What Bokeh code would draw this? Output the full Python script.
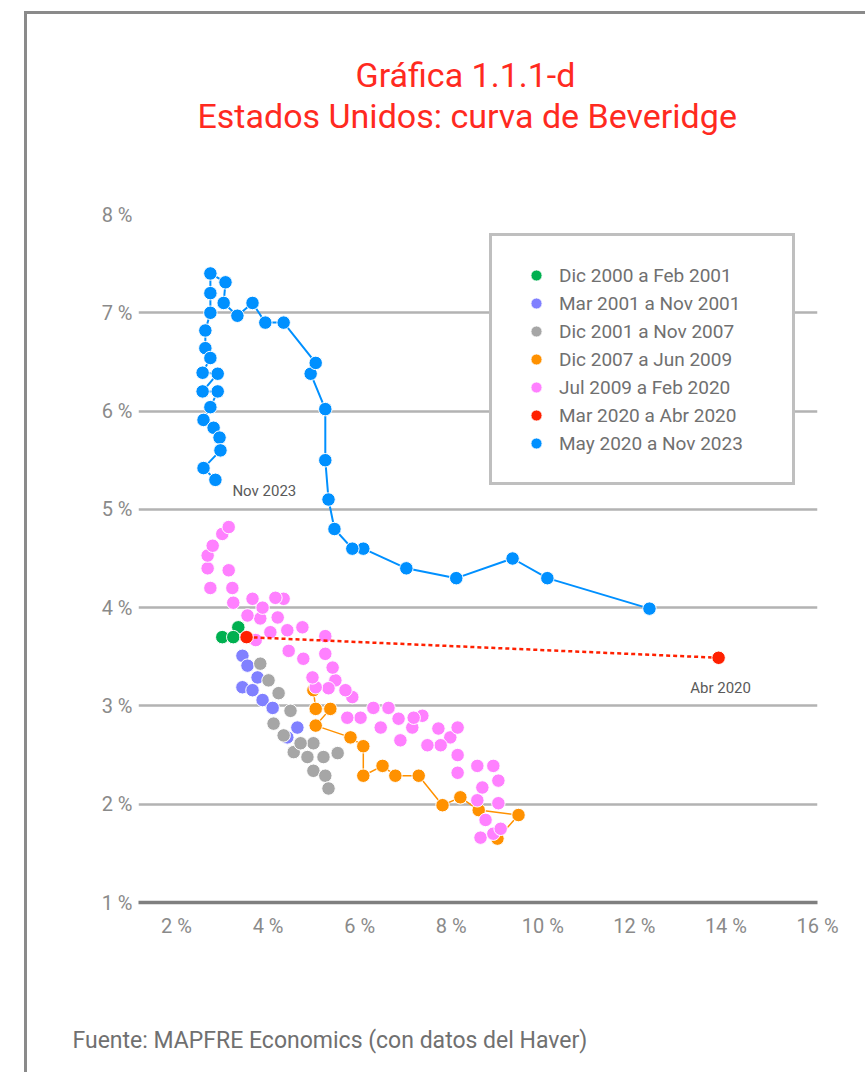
from bokeh.plotting import figure
from bokeh.models import Range1d, FixedTicker, Label, Legend, LegendItem, Title
from bokeh.embed import file_html
from bokeh.resources import INLINE

# ---------------- data ----------------
title_line1 = "Gráfica 1.1.1-d"
title_line2 = "Estados Unidos: curva de Beveridge"
source_note = "Fuente: MAPFRE Economics (con datos del Haver)"

x_ticks = [2, 4, 6, 8, 10, 12, 14, 16]
x_tick_labels = ["2 %", "4 %", "6 %", "8 %", "10 %", "12 %", "14 %", "16 %"]
y_ticks = [1, 2, 3, 4, 5, 6, 7, 8]
y_tick_labels = ["1 %", "2 %", "3 %", "4 %", "5 %", "6 %", "7 %", "8 %"]

series_labels = [
    "Dic 2000 a Feb 2001",
    "Mar 2001 a Nov 2001",
    "Dic 2001 a Nov 2007",
    "Dic 2007 a Jun 2009",
    "Jul 2009 a Feb 2020",
    "Mar 2020 a Abr 2020",
    "May 2020 a Nov 2023",
]
series_colors = ["#00b050", "#8080ff", "#a6a6a6", "#ff9100", "#ff80ff", "#ff2000", "#0090ff"]

# x = unemployment rate (%), y = vacancy rate (%)
green_x = [3.00, 3.35, 3.24]
green_y = [3.70, 3.80, 3.70]

purple_x = [3.44, 3.55, 3.77, 3.44, 3.66, 3.88, 4.10, 4.64, 4.42]
purple_y = [3.51, 3.41, 3.29, 3.19, 3.16, 3.06, 2.98, 2.78, 2.68]

grey_x = [4.56, 4.86, 4.99, 5.25, 5.32, 5.21, 5.52, 4.99, 4.71, 4.34, 4.12, 4.49, 4.23, 4.01, 3.83]
grey_y = [2.53, 2.48, 2.34, 2.29, 2.16, 2.48, 2.52, 2.62, 2.62, 2.70, 2.82, 2.95, 3.13, 3.26, 3.43]

orange_x = [4.99, 5.04, 5.36, 5.04, 5.80, 6.08, 6.08, 6.50, 6.78, 7.29, 7.81, 8.20, 8.60, 9.47, 9.01]
orange_y = [3.16, 2.97, 2.97, 2.80, 2.68, 2.59, 2.29, 2.39, 2.29, 2.29, 1.99, 2.07, 1.94, 1.89, 1.65]

pink_x = [8.64, 8.92, 9.08, 8.75, 8.57, 9.03, 8.68, 9.03, 8.92, 8.57, 8.14, 8.14, 7.98, 8.14,
          7.77, 7.72, 7.48, 7.37, 7.15, 7.18, 6.89, 6.85, 6.46, 6.63, 6.30, 6.02, 5.73, 5.84,
          5.69, 5.47, 5.32, 5.04, 4.97, 5.41, 5.25, 4.77, 4.45, 5.25, 4.75, 4.42, 4.05, 3.73,
          4.21, 3.83, 3.55, 3.88, 4.34, 4.16, 3.66, 3.24, 3.22, 2.74, 3.14, 2.68, 2.68, 2.79,
          3.00, 3.14]
pink_y = [1.66, 1.70, 1.75, 1.84, 2.04, 2.01, 2.17, 2.24, 2.39, 2.39, 2.32, 2.50, 2.68, 2.78,
          2.60, 2.77, 2.60, 2.90, 2.78, 2.88, 2.65, 2.87, 2.78, 2.98, 2.98, 2.88, 2.88, 3.09,
          3.16, 3.26, 3.18, 3.19, 3.29, 3.39, 3.53, 3.48, 3.56, 3.71, 3.80, 3.77, 3.75, 3.67,
          3.90, 3.89, 3.92, 4.00, 4.09, 4.10, 4.09, 4.05, 4.20, 4.20, 4.38, 4.40, 4.53, 4.63,
          4.75, 4.82]

red_x = [3.53, 13.84]
red_y = [3.70, 3.49]

blue_x = [12.33, 10.10, 9.34, 8.11, 7.02, 6.08, 5.84, 5.45, 5.32, 5.25, 5.25, 4.93, 5.04,
          4.34, 3.94, 3.66, 3.33, 3.03, 3.07, 2.74, 2.74, 2.74, 2.63, 2.63, 2.74, 2.57, 2.90,
          2.57, 2.90, 2.74, 2.59, 2.81, 2.94, 2.96, 2.59, 2.85]
blue_y = [3.99, 4.30, 4.50, 4.30, 4.40, 4.60, 4.60, 4.80, 5.10, 5.50, 6.02, 6.38, 6.49,
          6.90, 6.90, 7.10, 6.97, 7.10, 7.31, 7.40, 7.20, 7.00, 6.82, 6.64, 6.54, 6.39, 6.38,
          6.20, 6.20, 6.04, 5.91, 5.83, 5.73, 5.60, 5.42, 5.30]

label_nov2023 = "Nov 2023"
label_abr2020 = "Abr 2020"

FONT = "Roboto"
TITLE_RED = "#ff2a1f"

# ---------------- figure ----------------
p = figure(width=841, height=1061, title=None,
           x_range=Range1d(1.17, 16), y_range=Range1d(1, 8),
           output_backend="svg", toolbar_location=None,
           min_border_left=111, min_border_right=51,
           min_border_top=200, min_border_bottom=173,
           background_fill_color="white", border_fill_color="white",
           outline_line_color=None)
p.styles = {"border-top": "3px solid #8a8a8a", "border-left": "3px solid #8a8a8a",
            "margin-left": "24px", "margin-top": "11px"}

# axes
p.xaxis.ticker = FixedTicker(ticks=x_ticks)
p.xaxis.major_label_overrides = {t: s for t, s in zip(x_ticks, x_tick_labels)}
p.yaxis.ticker = FixedTicker(ticks=y_ticks)
p.yaxis.major_label_overrides = {t: s for t, s in zip(y_ticks, y_tick_labels)}
for ax in (p.xaxis[0], p.yaxis[0]):
    ax.major_tick_line_color = None
    ax.minor_tick_line_color = None
    ax.major_label_text_font = FONT
    ax.major_label_text_font_size = "20px"
    ax.major_label_text_color = "#8a8a8a"
p.xaxis.axis_line_color = "#7f7f7f"
p.xaxis.axis_line_width = 3.5
p.xaxis.major_label_standoff = 5
p.yaxis.axis_line_color = None
p.yaxis.major_label_standoff = 0

p.xgrid.visible = False
p.ygrid.ticker = FixedTicker(ticks=y_ticks)
p.ygrid.grid_line_color = "#b3b3b3"
p.ygrid.grid_line_width = 2.5

# series
all_x = [green_x, purple_x, grey_x, orange_x, pink_x, red_x, blue_x]
all_y = [green_y, purple_y, grey_y, orange_y, pink_y, red_y, blue_y]
scatter_renderers = []
for i, (xs, ys, col) in enumerate(zip(all_x, all_y, series_colors)):
    if i == 3:
        p.line(xs, ys, line_color=col, line_width=1.5)
    elif i == 5:
        p.line(xs, ys, line_color=col, line_width=2.5, line_dash="4 3")
    elif i == 6:
        p.line(xs, ys, line_color=col, line_width=2)
    r = p.scatter(xs, ys, size=13.5, fill_color=col, line_color="white", line_width=1)
    scatter_renderers.append(r)

# legend
legend = Legend(
    items=[LegendItem(label=lab, renderers=[r]) for lab, r in zip(series_labels, scatter_renderers)],
    location=(351, 417),
    glyph_width=38, glyph_height=28, label_height=20, label_width=208,
    spacing=0, padding=25, label_standoff=4, margin=0,
    border_line_color="#808080", border_line_width=3,
    background_fill_color="white", background_fill_alpha=1.0,
    label_text_font=FONT, label_text_font_size="19px", label_text_color="#707070",
)
p.add_layout(legend)

# point annotations
p.add_layout(Label(x=blue_x[-1], y=blue_y[-1], text=label_nov2023, x_offset=17, y_offset=-11,
                   text_font=FONT, text_font_size="15px", text_color="#5a5a5a",
                   text_align="left", text_baseline="middle"))
p.add_layout(Label(x=red_x[-1], y=red_y[-1], text=label_abr2020, x_offset=2, y_offset=-30,
                   text_font=FONT, text_font_size="15px", text_color="#5a5a5a",
                   text_align="center", text_baseline="middle"))

# titles: items in "above" are stacked outward from the frame in the order added
p.add_layout(Title(text=" ", text_font=FONT, text_font_size="34px", standoff=37), "above")
p.add_layout(Title(text=title_line2, text_font=FONT, text_font_size="34px",
                   text_font_style="normal", text_color=TITLE_RED,
                   align="left", offset=59, standoff=0), "above")
p.add_layout(Title(text=title_line1, text_font=FONT, text_font_size="34px",
                   text_font_style="normal", text_color=TITLE_RED,
                   align="left", offset=217, standoff=-2), "above")

# source note below the x axis
p.add_layout(Title(text=" ", text_font=FONT, text_font_size="23px", standoff=55), "below")
p.add_layout(Title(text=source_note, text_font=FONT, text_font_size="23px",
                   text_font_style="normal", text_color="#707070",
                   align="left", offset=-66, standoff=0), "below")

open("out.html", "w", encoding="utf-8").write(file_html(p, INLINE))
